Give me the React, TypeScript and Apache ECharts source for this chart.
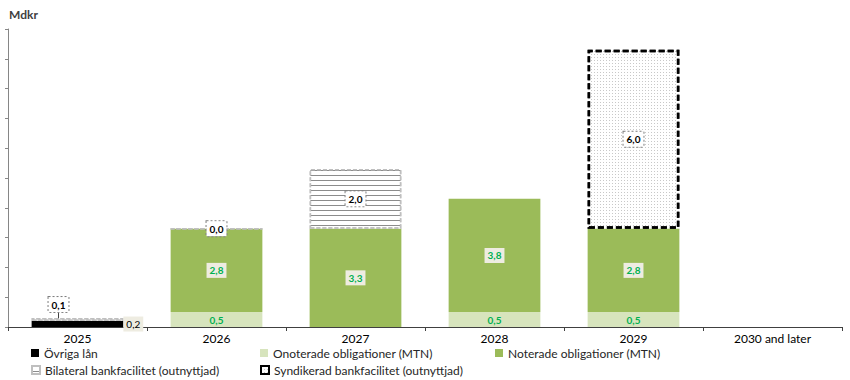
import React, { useEffect, useRef } from "react";
import * as echarts from "echarts";

const categories = ["2025", "2026", "2027", "2028", "2029", "2030 and later"];
const ovrigaLan = [0.2, null, null, null, null, null];
const onoterade = [null, 0.5, null, 0.5, 0.5, null];
const noterade = [null, 2.8, 3.3, 3.8, 2.8, null];
const bilateral = [0.1, 0.0, 2.0, null, null, null];
const syndikerad = [null, null, null, null, 6.0, null];

const FONT = "Lato";
const fmt = (p: any) => (p.value == null ? "" : Number(p.value).toFixed(1).replace(".", ","));

export default function App() {
  const ref = useRef<HTMLDivElement>(null);
  useEffect(() => {
    if (!ref.current) return;
    const chart = echarts.init(ref.current, null, { renderer: "svg" });
    const greenLabel = {
      show: true,
      position: "inside",
      formatter: fmt,
      color: "#00b050",
      fontWeight: "bold",
      fontSize: 10,
      fontFamily: FONT,
      backgroundColor: "#eeece1",
      padding: [3, 3, 2, 3],
    };
    const dashedLabel = {
      show: true,
      position: "inside",
      formatter: fmt,
      color: "#000",
      fontWeight: "bold",
      fontSize: 10,
      fontFamily: FONT,
      backgroundColor: "#fff",
      borderColor: "#7f7f7f",
      borderWidth: 1,
      borderType: [2, 2],
      padding: [3, 3, 2, 3],
    };
    const legendBase = {
      itemWidth: 8,
      itemHeight: 8,
      itemGap: 4,
      textStyle: { fontFamily: FONT, fontSize: 12, color: "#262626" },
      icon: "rect",
    };
    chart.setOption({
      animation: false,
      title: {
        text: "Mdkr",
        left: 4,
        top: 3,
        textStyle: { fontFamily: FONT, fontSize: 12, fontWeight: "bold", color: "#404040" },
      },
      grid: { left: 8, right: 8, top: 29, bottom: 53, containLabel: false },
      xAxis: {
        type: "category",
        data: categories,
        axisLine: { lineStyle: { color: "#404040" } },
        axisTick: { show: true, length: 4, lineStyle: { color: "#404040" } },
        axisLabel: { color: "#000", fontFamily: FONT, fontSize: 12, margin: 5 },
      },
      yAxis: {
        type: "value",
        min: 0,
        max: 10,
        interval: 1,
        axisLine: { show: true, lineStyle: { color: "#868686" } },
        axisTick: { show: true, length: 3, lineStyle: { color: "#868686" } },
        axisLabel: { show: false },
        splitLine: { show: false },
      },
      legend: [
        { ...legendBase, data: ["Övriga lån"], left: 26, top: 342 },
        { ...legendBase, data: ["Onoterade obligationer (MTN)"], left: 255, top: 342 },
        { ...legendBase, data: ["Noterade obligationer (MTN)"], left: 490, top: 342 },
        { ...legendBase, data: ["Bilateral bankfacilitet (outnyttjad)"], left: 26, top: 359 },
        { ...legendBase, data: ["Syndikerad bankfacilitet (outnyttjad)"], left: 255, top: 359 },
      ],
      series: [
        {
          name: "Övriga lån",
          type: "bar",
          stack: "a",
          barWidth: "66%",
          data: ovrigaLan,
          itemStyle: { color: "#000" },
          label: {
            show: true,
            position: "right",
            distance: 0,
            formatter: fmt,
            color: "#000",
            fontSize: 10,
            fontFamily: FONT,
            backgroundColor: "#eeece1",
            padding: [3, 3, 2, 3],
          },
        },
        {
          name: "Onoterade obligationer (MTN)",
          type: "bar",
          stack: "a",
          data: onoterade,
          itemStyle: { color: "#d7e4bd" },
          label: { ...greenLabel, backgroundColor: "transparent" },
        },
        {
          name: "Noterade obligationer (MTN)",
          type: "bar",
          stack: "a",
          data: noterade,
          itemStyle: { color: "#9bbb59" },
          label: greenLabel,
        },
        {
          name: "Bilateral bankfacilitet (outnyttjad)",
          type: "bar",
          stack: "a",
          data: bilateral,
          itemStyle: {
            color: "#ffffff",
            borderColor: "#bfbfbf",
            borderWidth: 1.5,
            borderType: [4, 2],
            decal: {
              symbol: "rect",
              dashArrayX: [1, 0],
              dashArrayY: [1, 4],
              rotation: 0,
              color: "#8c8c8c",
              symbolSize: 1,
            },
          },
          label: dashedLabel,
          labelLine: { show: true, lineStyle: { color: "#404040", width: 1 } },
          labelLayout: (p: any) => (p.dataIndex === 0 ? { dx: -19, dy: -15 } : {}),
        },
        {
          name: "Syndikerad bankfacilitet (outnyttjad)",
          type: "bar",
          stack: "a",
          data: syndikerad,
          itemStyle: {
            color: "#ffffff",
            borderColor: "#000",
            borderWidth: 2.5,
            borderType: [6, 3],
            decal: {
              symbol: "rect",
              dashArrayX: [1, 2],
              dashArrayY: [1, 2],
              rotation: 0,
              color: "#c8c8c8",
              symbolSize: 1,
            },
          },
          label: dashedLabel,
        },
      ],
    });
    return () => chart.dispose();
  }, []);
  return <div ref={ref} style={{ width: 850, height: 380, position: "absolute", left: 0, top: 0 }} />;
}
